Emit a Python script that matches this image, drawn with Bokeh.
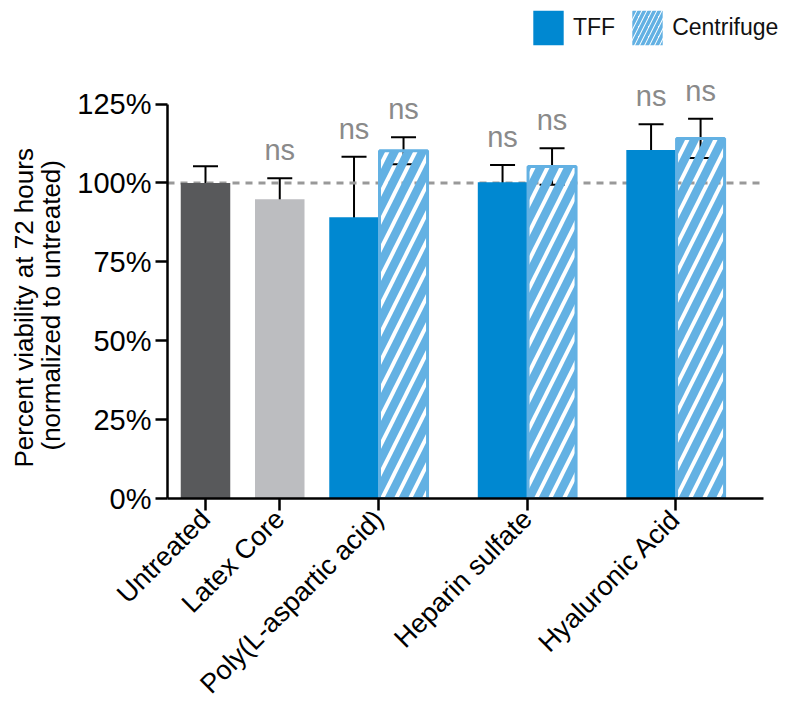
import math
from bokeh.plotting import figure
from bokeh.models import (ColumnDataSource, Whisker, TeeHead, LabelSet, Title,
                          FixedTicker, PrintfTickFormatter, Legend, LegendItem)
from bokeh.core.properties import value
from bokeh.embed import file_html
from bokeh.resources import INLINE

# ---------------- data ----------------
categories = ["Untreated", "Latex Core", "Poly(L-aspartic acid)", "Heparin sulfate", "Hyaluronic Acid"]
control_names = ["Untreated", "Latex Core"]
control_values = [100.0, 94.8]
control_errors = [5.3, 6.7]
control_ns = ["", "ns"]

treated_names = ["Poly(L-aspartic acid)", "Heparin sulfate", "Hyaluronic Acid"]
tff_values = [89.1, 100.2, 110.4]
tff_errors = [19.2, 5.5, 8.2]
centrifuge_values = [110.2, 105.2, 114.1]
centrifuge_errors = [4.3, 5.8, 6.2]
y_ticks = [0, 25, 50, 75, 100, 125]
reference_level = 100

# ---------------- layout constants ----------------
group_pos = {"Untreated": 0, "Latex Core": 3, "Poly(L-aspartic acid)": 7,
             "Heparin sulfate": 13, "Hyaluronic Acid": 19}
bar_w = 2.0
X_AXIS_START, X_AXIS_END = -1.535, 22.545
FONT = "Liberation Sans"

ctrl_x = [group_pos[c] for c in control_names]
tff_x = [group_pos[c] - bar_w / 2 for c in treated_names]
cen_x = [group_pos[c] + bar_w / 2 for c in treated_names]

ctrl_src = ColumnDataSource(dict(
    x=ctrl_x, top=control_values,
    upper=[v + e for v, e in zip(control_values, control_errors)],
    lower=[v - e for v, e in zip(control_values, control_errors)],
    color=["#58595B", "#BCBDC0"], ns=control_ns))
tff_src = ColumnDataSource(dict(
    x=tff_x, top=tff_values,
    upper=[v + e for v, e in zip(tff_values, tff_errors)],
    lower=[v - e for v, e in zip(tff_values, tff_errors)],
    ns=["ns"] * len(tff_values)))
cen_src = ColumnDataSource(dict(
    x=cen_x, top=centrifuge_values,
    upper=[v + e for v, e in zip(centrifuge_values, centrifuge_errors)],
    lower=[v - e for v, e in zip(centrifuge_values, centrifuge_errors)],
    ns=["ns"] * len(centrifuge_values)))

p = figure(width=784, height=712, title=None, output_backend="svg",
           toolbar_location=None, x_range=(X_AXIS_START, 23.39), y_range=(0, 157.8),
           min_border_left=167, min_border_right=0, min_border_top=0,
           min_border_bottom=211)
p.outline_line_color = None
p.xgrid.visible = False
p.ygrid.visible = False
p.background_fill_color = "white"

TFF_BLUE = "#0088D1"
LIGHT_BLUE = "#63B1E3"

# dashed reference line (behind bars)
p.segment(x0=X_AXIS_START, x1=X_AXIS_END, y0=reference_level, y1=reference_level,
          line_color="#999999", line_width=3, line_dash="7 6")

p.vbar(x="x", top="top", bottom=0, width=bar_w, source=ctrl_src,
       fill_color="color", line_color=None)
r_tff = p.vbar(x="x", top="top", bottom=0, width=bar_w, source=tff_src,
               fill_color=TFF_BLUE, line_color=None)
p.vbar(x="x", top="top", bottom=0, width=bar_w * 0.97, source=cen_src,
       fill_alpha=0, line_color=LIGHT_BLUE, line_width=3,
       hatch_pattern="/", hatch_color=LIGHT_BLUE, hatch_scale=28, hatch_weight=8.5)

# zero-height renderer only used for the legend swatch (finer hatch, no outline)
leg_cen = p.vbar(x="x", top="top", bottom="top", width=bar_w, source=cen_src,
                 fill_alpha=0, line_color=None,
                 hatch_pattern="/", hatch_color=LIGHT_BLUE, hatch_scale=10, hatch_weight=3.5)

for src in (ctrl_src, tff_src, cen_src):
    p.add_layout(Whisker(base="x", upper="upper", lower="lower", source=src,
                         line_color="black", line_width=2,
                         upper_head=TeeHead(size=25, line_width=2, line_color="black"),
                         lower_head=TeeHead(size=25, line_width=2, line_color="black")))
    p.add_layout(LabelSet(x="x", y="upper", text="ns", source=src, y_offset=18,
                          text_align="center", text_baseline="alphabetic",
                          text_font=value(FONT), text_font_size=value("29px"),
                          text_color="#8A8A8A"))

legend = Legend(items=[LegendItem(label="TFF", renderers=[r_tff]),
                       LegendItem(label="Centrifuge", renderers=[leg_cen])],
                orientation="horizontal", location=(362, 449),
                glyph_width=38, glyph_height=43, label_standoff=6, spacing=13,
                padding=0, margin=0, border_line_color=None,
                background_fill_alpha=0, label_text_font=FONT,
                label_text_font_size="23px", label_text_color="#111111")
p.add_layout(legend, "center")

# axes
for ax in (p.xaxis[0], p.yaxis[0]):
    ax.axis_line_width = 2.5
    ax.axis_line_color = "black"
    ax.major_tick_line_width = 2.5
    ax.major_tick_line_color = "black"
    ax.major_tick_out = 12
    ax.major_tick_in = 0
    ax.minor_tick_line_color = None
    ax.major_label_text_font = FONT
    ax.major_label_text_color = "black"

p.yaxis.ticker = FixedTicker(ticks=y_ticks)
p.yaxis.formatter = PrintfTickFormatter(format="%d%%")
p.yaxis.bounds = (0, 125)
p.yaxis.major_label_standoff = 4
p.yaxis.major_label_text_font_size = "29px"

# y-axis title: two lines, anchored from the bottom of the frame
for txt, off, va, so in (("(normalized to untreated)", 48, "top", 14),
                         ("Percent viability at 72 hours", 31, "middle", -22)):
    p.add_layout(Title(text=txt, align="left", offset=off, vertical_align=va,
                       text_font=FONT, text_font_size="26px", text_font_style="normal",
                       text_color="black", standoff=so), "left")

p.xaxis.bounds = (X_AXIS_START, X_AXIS_END)
p.xaxis.ticker = FixedTicker(ticks=[group_pos[c] for c in categories])
p.xaxis.major_label_overrides = {group_pos[c]: c for c in categories}
p.xaxis.major_label_orientation = math.pi / 4
p.xaxis.major_label_standoff = 4
p.xaxis.major_label_text_font_size = "27px"

open("out.html", "w").write(file_html(p, INLINE))
